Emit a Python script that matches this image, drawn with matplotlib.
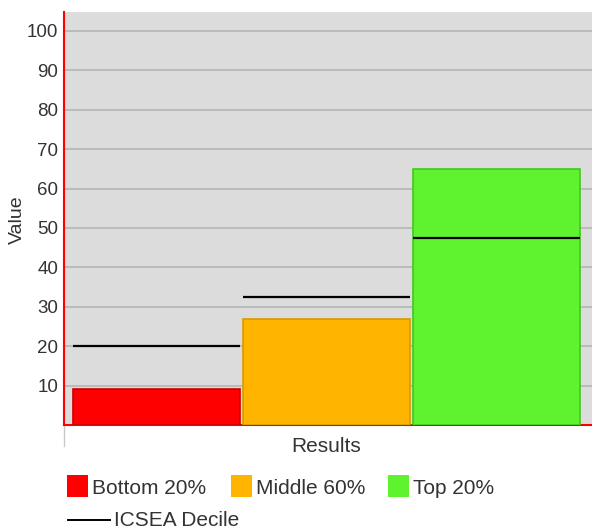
import matplotlib
matplotlib.use("Agg")
import matplotlib.pyplot as plt
from matplotlib.patches import Rectangle
from matplotlib.lines import Line2D

categories = ["Bottom 20%", "Middle 60%", "Top 20%"]
values = [9.2, 27.0, 65.0]
icsea = [20.0, 32.5, 47.5]
colors = ["#ff0000", "#ffb400", "#5ef22f"]
edges = ["#cc0000", "#d99a00", "#40c81e"]
yticks = [10, 20, 30, 40, 50, 60, 70, 80, 90, 100]
line_label = "ICSEA Decile"
group_label = "Results"

plt.rcParams['font.family'] = ['Liberation Sans', 'DejaVu Sans']
txt = '#333333'
fs_tick = 13.5
fs_leg = 15

W, H = 592, 530
fig = plt.figure(figsize=(W/100, H/100), dpi=100)
ax = fig.add_axes([64/W, (H-425)/H, (592-64)/W, (425-12)/H])
ax.set_facecolor('#dcdcdc')

width = 0.982
xs = list(range(len(categories)))
ax.bar(xs, values, width=width, color=colors, edgecolor=edges, linewidth=1.2, zorder=3)
for x, v in zip(xs, icsea):
    ax.hlines(v, x - width/2, x + width/2, color='black', linewidth=1.6, zorder=4)

ax.set_xlim(-0.544, 2.562)
ax.set_ylim(0, 104.8)
ax.set_yticks(yticks)
ax.yaxis.grid(True, color='#b8b8b8', linewidth=1.3, zorder=0)
ax.set_axisbelow(True)
ax.tick_params(axis='y', length=0, pad=4, labelsize=fs_tick, labelcolor=txt)
ax.set_xticks([1])
ax.set_xticklabels([group_label])
ax.tick_params(axis='x', length=0, pad=9, labelsize=fs_leg, labelcolor=txt)
ax.set_ylabel("Value", fontsize=14, color=txt)
ax.yaxis.set_label_coords(-0.072, 0.496)
for s in ['top', 'right']:
    ax.spines[s].set_visible(False)
for s in ['left', 'bottom']:
    ax.spines[s].set_color('#ff0000')
    ax.spines[s].set_linewidth(1.5)
ax.plot([0, 0], [0, -0.05], transform=ax.transAxes, clip_on=False, color='#c8c8c8', linewidth=1)

# legend (manual, in pixel-based figure coords)
def fx(px): return px / W
def fy(py): return (H - py) / H
sq_x = [67, 231, 388]
for px, lab, c in zip(sq_x, categories, colors):
    fig.patches.append(Rectangle((fx(px), fy(497)), 21/W, 22/H, transform=fig.transFigure,
                                 facecolor=c, edgecolor='none'))
    fig.text(fx(px + 25), fy(489), lab, fontsize=fs_leg, color=txt, va='center', ha='left')
fig.lines.append(Line2D([fx(68), fx(110)], [fy(520), fy(520)], transform=fig.transFigure,
                        color='black', linewidth=1.4))
fig.text(fx(114), fy(520), line_label, fontsize=fs_leg, color=txt, va='center', ha='left')

fig.savefig("out.png", dpi=100)
